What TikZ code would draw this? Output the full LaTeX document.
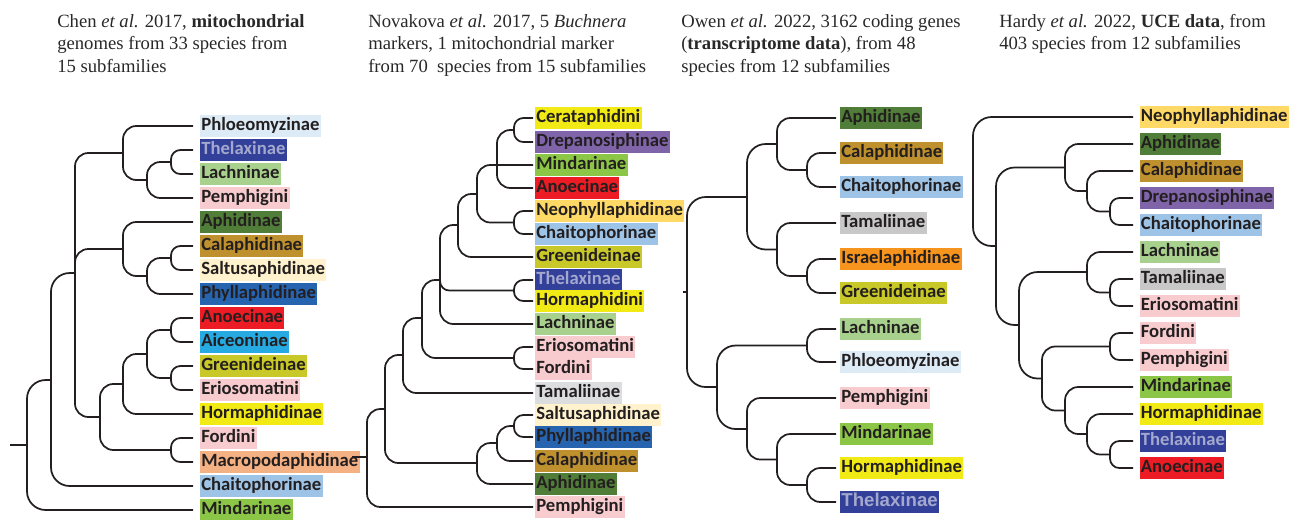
\documentclass[tikz,border=0pt]{standalone}
\usepackage{fontspec}
\setmainfont{Liberation Serif}
\newfontfamily\carlito{Carlito}
\newfontfamily\arialbold{Liberation Sans}
\usepackage{tikz}
\definecolor{branch}{RGB}{35,31,32}
\definecolor{labtext}{RGB}{35,31,32}
\definecolor{headtext}{RGB}{40,40,40}
\definecolor{cPhloeo}{RGB}{221,235,247}
\definecolor{cThel}{RGB}{50,64,153}
\definecolor{cThelTxt}{RGB}{164,168,206}
\definecolor{cLach}{RGB}{169,209,142}
\definecolor{cPemph}{RGB}{248,203,206}
\definecolor{cAphid}{RGB}{80,125,55}
\definecolor{cCalaph}{RGB}{191,144,46}
\definecolor{cSaltus}{RGB}{255,242,204}
\definecolor{cPhyll}{RGB}{38,100,176}
\definecolor{cAnoe}{RGB}{237,28,36}
\definecolor{cAiceo}{RGB}{38,170,225}
\definecolor{cGreen}{RGB}{200,200,40}
\definecolor{cHorm}{RGB}{242,234,20}
\definecolor{cMacro}{RGB}{244,177,131}
\definecolor{cChait}{RGB}{157,195,230}
\definecolor{cMind}{RGB}{140,198,70}
\definecolor{cDrep}{RGB}{128,100,170}
\definecolor{cNeo}{RGB}{255,217,102}
\definecolor{cTamalA}{RGB}{220,221,223}
\definecolor{cTamalB}{RGB}{200,200,200}
\definecolor{cIsrael}{RGB}{247,148,29}

\begin{document}
\begin{tikzpicture}[x=0.75pt, y=-0.75pt,
  br/.style={draw=branch, line width=1.3pt, rounded corners=10pt},
  brs/.style={br, rounded corners=7pt},
  brl/.style={br, rounded corners=14pt},
  tx/.style={anchor=west, font=\carlito\bfseries\fontsize{14}{16}\selectfont,
             text=labtext, inner xsep=1pt, inner ysep=1.5pt,
             text height=10.5pt, text depth=3.5pt},
  tipa/.style={tx, outer xsep=5.25pt},
  tipb/.style={tx, outer xsep=1.5pt},
  tipc/.style={tx, outer xsep=3pt},
  tipd/.style={tx, outer xsep=4.9pt},
  hd/.style={anchor=north west, align=left, inner sep=0pt,
             font=\fontsize{14}{16.9}\selectfont, text=headtext}]
  \useasboundingbox (0,0) rectangle (1298,519);

  % headers
  \node[hd] (h1) at (57,14)  {Chen \textit{et al.} 2017, \textbf{mitochondrial}\\genomes from 33 species from\\15 subfamilies};
  \node[hd] (h2) at (368,14) {Novakova \textit{et al.} 2017, 5 \textit{Buchnera}\\markers, 1 mitochondrial marker\\from 70~ species from 15 subfamilies};
  \node[hd] (h3) at (681,14) {Owen \textit{et al.} 2022, 3162 coding genes\\(\textbf{transcriptome data}), from 48\\species from 12 subfamilies};
  \node[hd] (h4) at (999,14) {Hardy \textit{et al.} 2022, \textbf{UCE data}, from\\403 species from 12 subfamilies};

  % Chen et al. 2017
  \node[tipa, fill=cPhloeo] (a1) at (193,126) {Phloeomyzinae};
  \node[tipa, fill=cThel, text=cThelTxt] (a2) at (193,150) {Thelaxinae};
  \node[tipa, fill=cLach] (a3) at (193,174) {Lachninae};
  \node[tipa, fill=cPemph] (a4) at (193,198) {Pemphigini};
  \node[tipa, fill=cAphid] (a5) at (193,222) {Aphidinae};
  \node[tipa, fill=cCalaph] (a6) at (193,246) {Calaphidinae};
  \node[tipa, fill=cSaltus] (a7) at (193,270) {Saltusaphidinae};
  \node[tipa, fill=cPhyll] (a8) at (193,294) {Phyllaphidinae};
  \node[tipa, fill=cAnoe] (a9) at (193,318) {Anoecinae};
  \node[tipa, fill=cAiceo] (a10) at (193,342) {Aiceoninae};
  \node[tipa, fill=cGreen] (a11) at (193,366) {Greenideinae};
  \node[tipa, fill=cPemph] (a12) at (193,390) {Eriosomatini};
  \node[tipa, fill=cHorm] (a13) at (193,414) {Hormaphidinae};
  \node[tipa, fill=cPemph] (a14) at (193,438) {Fordini};
  \node[tipa, fill=cMacro] (a15) at (193,462) {Macropodaphidinae};
  \node[tipa, fill=cChait] (a16) at (193,486) {Chaitophorinae};
  \node[tipa, fill=cMind] (a17) at (193,510) {Mindarinae};

  \coordinate (aroot) at (10,445);
  \coordinate (aR) at (27,445);
  \coordinate (aA) at (51,380);
  \coordinate (aE) at (75,273);
  \coordinate (aC) at (123,153);
  \coordinate (aThLP) at (147,180);
  \coordinate (aThL) at (171,162);
  \coordinate (aD) at (123,249);
  \coordinate (aCSP) at (147,276);
  \coordinate (aCS) at (171,258);
  \coordinate (aB) at (100,417);
  \coordinate (aH) at (123,384);
  \coordinate (aAG) at (147,354);
  \coordinate (aAA) at (171,330);
  \coordinate (aGE) at (171,378);
  \coordinate (aFM) at (171,450);

  \draw[br] (aroot) -- (aR);
  \draw[brl] (aR) |- (aA) (aR) |- (a17.west);
  \draw[brl] (aA) |- (aE) (aA) |- (a16.west);
  \draw[br] (aE) |- (aC) (aE) |- (aD) (aE) |- (aB);
  \draw[br] (aC) |- (a1.west) (aC) |- (aThLP);
  \draw[br] (aThLP) |- (aThL) (aThLP) |- (a4.west);
  \draw[brs] (aThL) |- (a2.west) (aThL) |- (a3.west);
  \draw[br] (aD) |- (a5.west) (aD) |- (aCSP);
  \draw[br] (aCSP) |- (aCS) (aCSP) |- (a8.west);
  \draw[brs] (aCS) |- (a6.west) (aCS) |- (a7.west);
  \draw[br] (aB) |- (aH) (aB) |- (aFM);
  \draw[br] (aH) |- (aAG) (aH) |- (a13.west);
  \draw[br] (aAG) |- (aAA) (aAG) |- (aGE);
  \draw[brs] (aAA) |- (a9.west) (aAA) |- (a10.west);
  \draw[brs] (aGE) |- (a11.west) (aGE) |- (a12.west);
  \draw[brs] (aFM) |- (a14.west) (aFM) |- (a15.west);

  % Novakova et al. 2017
  \node[tipb, fill=cHorm] (b1) at (533,118) {Cerataphidini};
  \node[tipb, fill=cDrep] (b2) at (533,142) {Drepanosiphinae};
  \node[tipb, fill=cMind] (b3) at (533,165) {Mindarinae};
  \node[tipb, fill=cAnoe] (b4) at (533,188) {Anoecinae};
  \node[tipb, fill=cNeo] (b5) at (533,211) {Neophyllaphidinae};
  \node[tipb, fill=cChait] (b6) at (533,234) {Chaitophorinae};
  \node[tipb, fill=cGreen] (b7) at (533,257) {Greenideinae};
  \node[tipb, fill=cThel, text=cThelTxt] (b8) at (533,280) {Thelaxinae};
  \node[tipb, fill=cHorm] (b9) at (533,301) {Hormaphidini};
  \node[tipb, fill=cLach] (b10) at (533,324) {Lachninae};
  \node[tipb, fill=cPemph] (b11) at (533,347) {Eriosomatini};
  \node[tipb, fill=cPemph] (b12) at (533,369) {Fordini};
  \node[tipb, fill=cTamalA] (b13) at (533,393) {Tamaliinae};
  \node[tipb, fill=cSaltus] (b14) at (533,415) {Saltusaphidinae};
  \node[tipb, fill=cPhyll] (b15) at (533,437) {Phyllaphidinae};
  \node[tipb, fill=cCalaph] (b16) at (533,461) {Calaphidinae};
  \node[tipb, fill=cAphid] (b17) at (533,484) {Aphidinae};
  \node[tipb, fill=cPemph] (b18) at (533,507) {Pemphigini};

  \coordinate (broot) at (352,457);
  \coordinate (bR0) at (367,457);
  \coordinate (bX) at (385,409);
  \coordinate (bU) at (403,355);
  \coordinate (bT) at (422,318);
  \coordinate (bS) at (440,280);
  \coordinate (bR) at (458,225);
  \coordinate (bQ) at (477,194);
  \coordinate (bP) at (497,165);
  \coordinate (bCD) at (514,130);
  \coordinate (bNC) at (514,222.5);
  \coordinate (bTH) at (514,290.5);
  \coordinate (bEF) at (514,358);
  \coordinate (bW) at (477,463);
  \coordinate (bV) at (497,443);
  \coordinate (bSP) at (514,426);

  \draw[br] (broot) -- (bR0);
  \draw[br] (bR0) |- (bX) (bR0) |- (b18.west);
  \draw[br] (bX) |- (bU) (bX) |- (bW);
  \draw[br] (bU) |- (bT) (bU) |- (b13.west);
  \draw[br] (bT) |- (bS) (bT) |- (bEF);
  \draw[br] (bS) |- (bR) (bS) |- (b10.west);
  \draw[brs] (bS) |- (bTH);
  \draw[br] (bR) |- (bQ) (bR) |- (b7.west);
  \draw[br] (bQ) |- (bP) (bQ) |- (bNC);
  \draw[br] (bP) |- (bCD) (bP) -- (b3.west) (bP) |- (b4.west);
  \draw[brs] (bCD) |- (b1.west) (bCD) |- (b2.west);
  \draw[brs] (bNC) |- (b5.west) (bNC) |- (b6.west);
  \draw[brs] (bTH) |- (b8.west) (bTH) |- (b9.west);
  \draw[brs] (bEF) |- (b11.west) (bEF) |- (b12.west);
  \draw[br] (bW) |- (bV) (bW) |- (b17.west);
  \draw[br] (bV) |- (bSP) (bV) |- (b16.west);
  \draw[brs] (bSP) |- (b14.west) (bSP) |- (b15.west);

  % Owen et al. 2022
  \node[tipc, fill=cAphid] (c1) at (836,118) {Aphidinae};
  \node[tipc, fill=cCalaph] (c2) at (836,153) {Calaphidinae};
  \node[tipc, fill=cChait] (c3) at (836,187) {Chaitophorinae};
  \node[tipc, fill=cTamalB] (c4) at (836,223) {Tamaliinae};
  \node[tipc, fill=cIsrael] (c5) at (836,259) {Israelaphidinae};
  \node[tipc, fill=cGreen] (c6) at (836,293) {Greenideinae};
  \node[tipc, fill=cLach] (c7) at (836,329) {Lachninae};
  \node[tipc, fill=cPhloeo] (c8) at (836,362) {Phloeomyzinae};
  \node[tipc, fill=cPemph] (c9) at (836,398) {Pemphigini};
  \node[tipc, fill=cMind] (c10) at (836,434) {Mindarinae};
  \node[tipc, fill=cHorm] (c11) at (836,468) {Hormaphidinae};
  \node[tipc, fill=cThel, text=cThelTxt, font=\arialbold\bfseries\fontsize{14}{16}\selectfont] (c12) at (836,502) {Thelaxinae};

  \coordinate (croot) at (683,292);
  \coordinate (cR) at (687,292);
  \coordinate (cU) at (747,197);
  \coordinate (cAp) at (777,144);
  \coordinate (cCC) at (807,170);
  \coordinate (cTa) at (777,249.5);
  \coordinate (cIG) at (807,276);
  \coordinate (cL) at (717,387);
  \coordinate (cLP) at (807,345.5);
  \coordinate (cPe) at (747,429);
  \coordinate (cM) at (777,459.5);
  \coordinate (cHT) at (807,485);

  \draw[br] (croot) -- (cR);
  \draw[brl] (cR) |- (cU) (cR) |- (cL);
  \draw[brl] (cU) |- (cAp) (cU) |- (cTa);
  \draw[br] (cAp) |- (c1.west) (cAp) |- (cCC);
  \draw[br] (cCC) |- (c2.west) (cCC) |- (c3.west);
  \draw[br] (cTa) |- (c4.west) (cTa) |- (cIG);
  \draw[br] (cIG) |- (c5.west) (cIG) |- (c6.west);
  \draw[brl] (cL) |- (cLP) (cL) |- (cPe);
  \draw[br] (cLP) |- (c7.west) (cLP) |- (c8.west);
  \draw[br] (cPe) |- (c9.west) (cPe) |- (cM);
  \draw[br] (cM) |- (c10.west) (cM) |- (cHT);
  \draw[br] (cHT) |- (c11.west) (cHT) |- (c12.west);

  % Hardy et al. 2022
  \node[tipd, fill=cNeo] (d1) at (1133,117) {Neophyllaphidinae};
  \node[tipd, fill=cAphid] (d2) at (1133,144) {Aphidinae};
  \node[tipd, fill=cCalaph] (d3) at (1133,171) {Calaphidinae};
  \node[tipd, fill=cDrep] (d4) at (1133,198) {Drepanosiphinae};
  \node[tipd, fill=cChait] (d5) at (1133,225) {Chaitophorinae};
  \node[tipd, fill=cLach] (d6) at (1133,252) {Lachninae};
  \node[tipd, fill=cTamalB] (d7) at (1133,279) {Tamaliinae};
  \node[tipd, fill=cPemph] (d8) at (1133,306) {Eriosomatini};
  \node[tipd, fill=cPemph] (d9) at (1133,333) {Fordini};
  \node[tipd, fill=cPemph] (d10) at (1133,360) {Pemphigini};
  \node[tipd, fill=cMind] (d11) at (1133,387) {Mindarinae};
  \node[tipd, fill=cHorm] (d12) at (1133,414) {Hormaphidinae};
  \node[tipd, fill=cThel, text=cThelTxt] (d13) at (1133,441) {Thelaxinae};
  \node[tipd, fill=cAnoe] (d14) at (1133,468) {Anoecinae};

  \coordinate (dR) at (973,181.5);
  \coordinate (dAL) at (996,246);
  \coordinate (dAp) at (1065,167.5);
  \coordinate (dCa) at (1087,191);
  \coordinate (dDC) at (1110,211.5);
  \coordinate (dLF) at (1019,325);
  \coordinate (dLa) at (1087,272);
  \coordinate (dTE) at (1110,292.5);
  \coordinate (dFM) at (1042,378.5);
  \coordinate (dFP) at (1110,346.5);
  \coordinate (dMi) at (1065,410.5);
  \coordinate (dHo) at (1087,434);
  \coordinate (dTA) at (1110,454.5);

  \draw[brl] (dR) |- (d1.west) (dR) |- (dAL);
  \draw[brl] (dAL) |- (dAp) (dAL) |- (dLF);
  \draw[br] (dAp) |- (d2.west) (dAp) |- (dCa);
  \draw[br] (dCa) |- (d3.west) (dCa) |- (dDC);
  \draw[brs] (dDC) |- (d4.west) (dDC) |- (d5.west);
  \draw[brl] (dLF) |- (dLa) (dLF) |- (dFM);
  \draw[br] (dLa) |- (d6.west) (dLa) |- (dTE);
  \draw[brs] (dTE) |- (d7.west) (dTE) |- (d8.west);
  \draw[br] (dFM) |- (dFP) (dFM) |- (dMi);
  \draw[brs] (dFP) |- (d9.west) (dFP) |- (d10.west);
  \draw[br] (dMi) |- (d11.west) (dMi) |- (dHo);
  \draw[br] (dHo) |- (d12.west) (dHo) |- (dTA);
  \draw[brs] (dTA) |- (d13.west) (dTA) |- (d14.west);
\end{tikzpicture}
\end{document}
